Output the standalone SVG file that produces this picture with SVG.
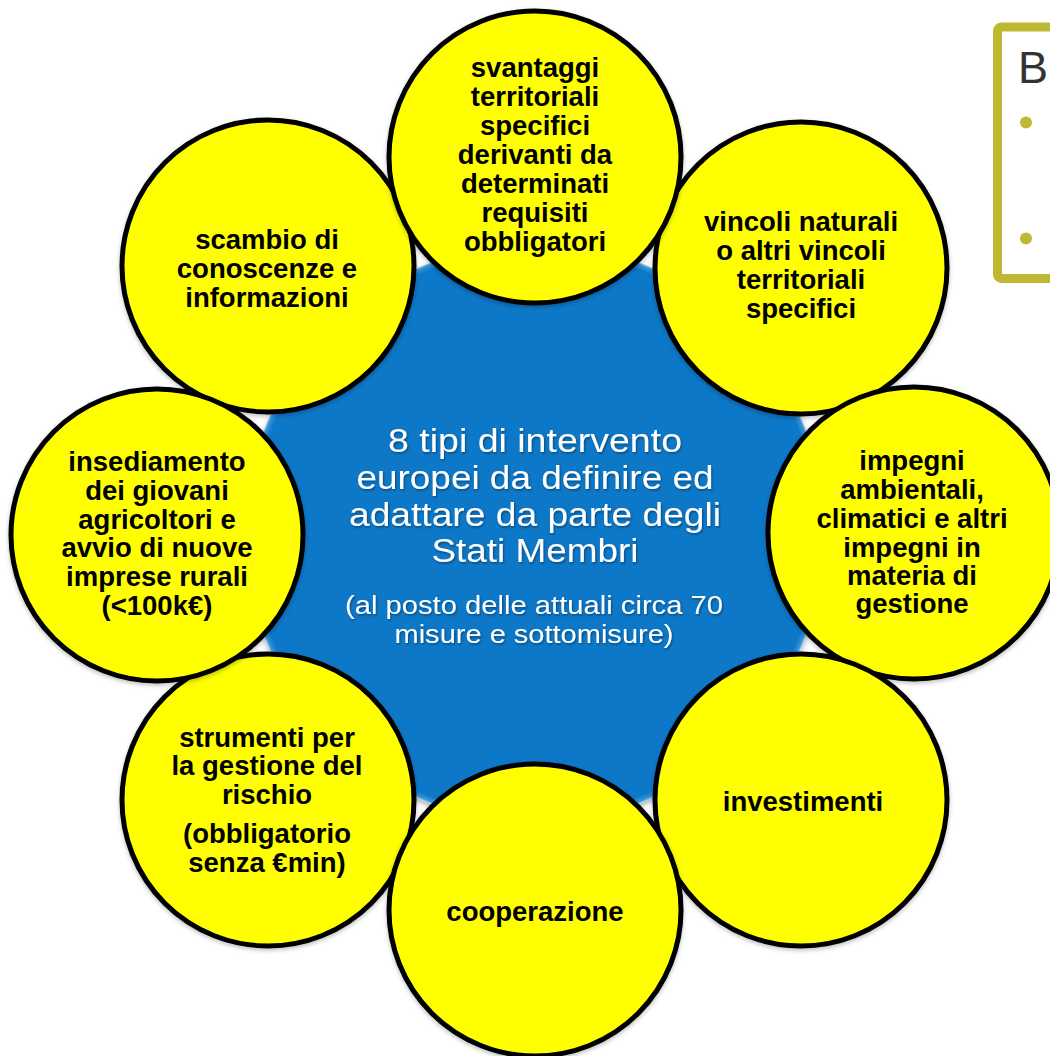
<svg xmlns="http://www.w3.org/2000/svg" width="1050" height="1056" viewBox="0 0 1050 1056">
  <defs>
    <style>
      .node { fill: #FFFF00; stroke: #000000; stroke-width: 5; }
      .lbl { font-family: "Liberation Sans", Arial, sans-serif; font-weight: bold; font-size: 27.5px; fill: #000000; text-anchor: middle; }
      .ctr { font-family: "Liberation Sans", Arial, sans-serif; font-size: 33px; fill: #FFFFFF; text-anchor: middle; }
      .sub { font-family: "Liberation Sans", Arial, sans-serif; font-size: 26px; fill: #FFFFFF; text-anchor: middle; }
    </style>
    <filter id="shadowBig" x="-20%" y="-20%" width="140%" height="140%">
      <feDropShadow dx="0" dy="3" stdDeviation="2.5" flood-color="#000000" flood-opacity="0.3"/>
    </filter>
    <filter id="shadowSmall" x="-10%" y="-10%" width="120%" height="120%">
      <feDropShadow dx="0" dy="2" stdDeviation="2" flood-color="#000000" flood-opacity="0.25"/>
    </filter>
    <filter id="txtShadow" x="-5%" y="-20%" width="110%" height="140%">
      <feDropShadow dx="1" dy="1.5" stdDeviation="1" flood-color="#000000" flood-opacity="0.4"/>
    </filter>
    <radialGradient id="rim" cx="50%" cy="50%" r="50%">
      <stop offset="0.975" stop-color="#0A78C8"/>
      <stop offset="0.993" stop-color="#3A95D9"/>
      <stop offset="1" stop-color="#A8D0EE"/>
    </radialGradient>
  </defs>

  <rect x="0" y="0" width="1050" height="1056" fill="#FFFFFF"/>

  <!-- side box (partially visible) -->
  <g id="side-box">
    <rect x="997.5" y="27" width="120" height="251.5" rx="4" fill="#FFFFFF" stroke="#BFB932" stroke-width="9"/>
    <text x="1018" y="83" font-family="'Liberation Sans', Arial, sans-serif" font-size="45" fill="#333333">B</text>
    <circle cx="1026" cy="122.5" r="6" fill="#BFB932"/>
    <circle cx="1026" cy="238.5" r="6" fill="#BFB932"/>
  </g>

  <!-- central node -->
  <g id="center">
    <circle cx="535" cy="533" r="290" fill="url(#rim)" filter="url(#shadowBig)"/>
    <g filter="url(#txtShadow)">
      <text class="ctr" x="535" y="452" textLength="294" lengthAdjust="spacingAndGlyphs">8 tipi di intervento</text>
      <text class="ctr" x="535" y="489" textLength="357" lengthAdjust="spacingAndGlyphs">europei da definire ed</text>
      <text class="ctr" x="535" y="526" textLength="372" lengthAdjust="spacingAndGlyphs">adattare da parte degli</text>
      <text class="ctr" x="535" y="562" textLength="207" lengthAdjust="spacingAndGlyphs">Stati Membri</text>
      <text class="sub" x="534" y="614" textLength="378" lengthAdjust="spacingAndGlyphs">(al posto delle attuali circa 70</text>
      <text class="sub" x="534" y="643" textLength="279" lengthAdjust="spacingAndGlyphs">misure e sottomisure)</text>
    </g>
  </g>

  <!-- connectors: none drawn in the reference -->
  <g id="connectors"></g>

  <g id="n-scambio">
    <circle class="node" cx="268" cy="266" r="146" filter="url(#shadowSmall)"/>
    <text class="lbl" x="267" y="249">scambio di</text>
    <text class="lbl" x="267" y="278">conoscenze e</text>
    <text class="lbl" x="267" y="307">informazioni</text>
  </g>

  <g id="n-vincoli">
    <circle class="node" cx="801" cy="268" r="146" filter="url(#shadowSmall)"/>
    <text class="lbl" x="801" y="231">vincoli naturali</text>
    <text class="lbl" x="801" y="260">o altri vincoli</text>
    <text class="lbl" x="801" y="289">territoriali</text>
    <text class="lbl" x="801" y="318">specifici</text>
  </g>

  <g id="n-svantaggi">
    <circle class="node" cx="535" cy="157" r="146" filter="url(#shadowSmall)"/>
    <text class="lbl" x="535" y="77">svantaggi</text>
    <text class="lbl" x="535" y="106">territoriali</text>
    <text class="lbl" x="535" y="135">specifici</text>
    <text class="lbl" x="535" y="164">derivanti da</text>
    <text class="lbl" x="535" y="193">determinati</text>
    <text class="lbl" x="535" y="222">requisiti</text>
    <text class="lbl" x="535" y="251">obbligatori</text>
  </g>

  <g id="n-impegni">
    <circle class="node" cx="914" cy="533" r="146" filter="url(#shadowSmall)"/>
    <text class="lbl" x="912" y="470">impegni</text>
    <text class="lbl" x="912" y="499">ambientali,</text>
    <text class="lbl" x="912" y="528">climatici e altri</text>
    <text class="lbl" x="912" y="557">impegni in</text>
    <text class="lbl" x="912" y="585">materia di</text>
    <text class="lbl" x="912" y="613">gestione</text>
  </g>

  <g id="n-investimenti">
    <circle class="node" cx="801" cy="800" r="146" filter="url(#shadowSmall)"/>
    <text class="lbl" x="803" y="811">investimenti</text>
  </g>

  <g id="n-strumenti">
    <circle class="node" cx="268" cy="800" r="146" filter="url(#shadowSmall)"/>
    <text class="lbl" x="267" y="747">strumenti per</text>
    <text class="lbl" x="267" y="775">la gestione del</text>
    <text class="lbl" x="267" y="804">rischio</text>
    <text class="lbl" x="267" y="843">(obbligatorio</text>
    <text class="lbl" x="267" y="872">senza €min)</text>
  </g>

  <g id="n-cooperazione">
    <circle class="node" cx="535" cy="910" r="146" filter="url(#shadowSmall)"/>
    <text class="lbl" x="535" y="921">cooperazione</text>
  </g>

  <g id="n-insediamento">
    <circle class="node" cx="157" cy="535" r="146" filter="url(#shadowSmall)"/>
    <text class="lbl" x="157" y="471">insediamento</text>
    <text class="lbl" x="157" y="500">dei giovani</text>
    <text class="lbl" x="157" y="529">agricoltori e</text>
    <text class="lbl" x="157" y="557">avvio di nuove</text>
    <text class="lbl" x="157" y="586">imprese rurali</text>
    <text class="lbl" x="157" y="615">(&lt;100k€)</text>
  </g>
</svg>
